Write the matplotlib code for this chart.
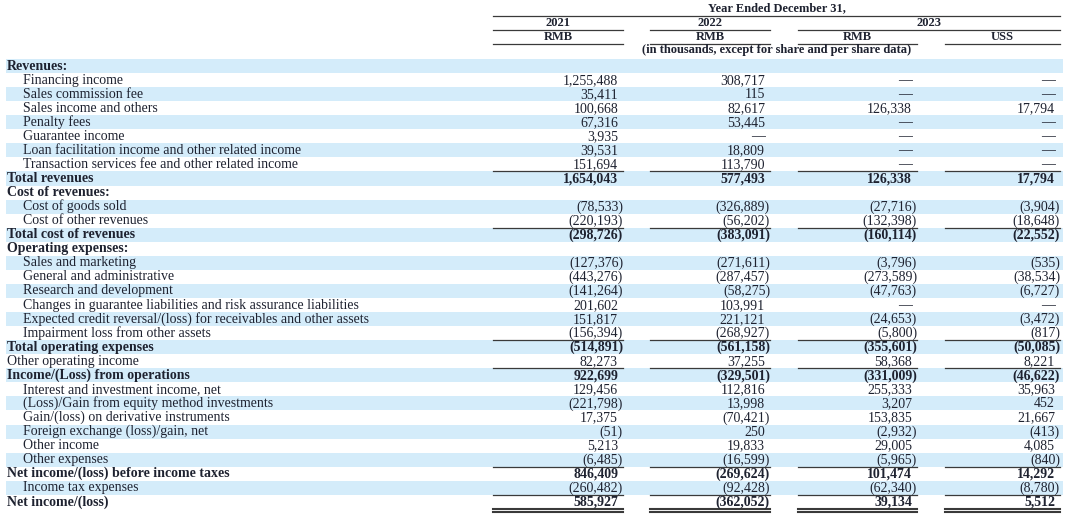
import matplotlib.pyplot as plt
from matplotlib.patches import Rectangle

# Income statement rows (label, style): head = bold section title, item = indented,
# total = bold subtotal, plain = unindented regular
labels = [
    "Revenues:", "Financing income", "Sales commission fee", "Sales income and others",
    "Penalty fees", "Guarantee income", "Loan facilitation income and other related income",
    "Transaction services fee and other related income", "Total revenues",
    "Cost of revenues:", "Cost of goods sold", "Cost of other revenues", "Total cost of revenues",
    "Operating expenses:", "Sales and marketing", "General and administrative",
    "Research and development", "Changes in guarantee liabilities and risk assurance liabilities",
    "Expected credit reversal/(loss) for receivables and other assets",
    "Impairment loss from other assets", "Total operating expenses", "Other operating income",
    "Income/(Loss) from operations", "Interest and investment income, net",
    "(Loss)/Gain from equity method investments", "Gain/(loss) on derivative instruments",
    "Foreign exchange (loss)/gain, net", "Other income", "Other expenses",
    "Net income/(loss) before income taxes", "Income tax expenses", "Net income/(loss)",
]
styles = [
    "head", "item", "item", "item", "item", "item", "item", "item", "total",
    "head", "item", "item", "total",
    "head", "item", "item", "item", "item", "item", "item", "total", "plain",
    "total", "item", "item", "item", "item", "item", "item", "total", "item", "total",
]

# None = dash (or blank for section titles)
rmb_2021 = [None, 1255488, 35411, 100668, 67316, 3935, 39531, 151694, 1654043,
            None, -78533, -220193, -298726,
            None, -127376, -443276, -141264, 201602, 151817, -156394, -514891, 82273,
            922699, 129456, -221798, 17375, -51, 5213, -6485, 846409, -260482, 585927]
rmb_2022 = [None, 308717, 115, 82617, 53445, None, 18809, 113790, 577493,
            None, -326889, -56202, -383091,
            None, -271611, -287457, -58275, 103991, 221121, -268927, -561158, 37255,
            -329501, 112816, 13998, -70421, 250, 19833, -16599, -269624, -92428, -362052]
rmb_2023 = [None, None, None, 126338, None, None, None, None, 126338,
            None, -27716, -132398, -160114,
            None, -3796, -273589, -47763, None, -24653, -5800, -355601, 58368,
            -331009, 255333, 3207, 153835, -2932, 29005, -5965, 101474, -62340, 39134]
usd_2023 = [None, None, None, 17794, None, None, None, None, 17794,
            None, -3904, -18648, -22552,
            None, -535, -38534, -6727, None, -3472, -817, -50085, 8221,
            -46622, 35963, 452, 21667, -413, 4085, -840, 14292, -8780, 5512]

columns = [rmb_2021, rmb_2022, rmb_2023, usd_2023]
col_units = ["RMB", "RMB", "RMB", "USS"]
single_rule_after = [7, 11, 19, 21, 28, 30]

# layout (pixel units)
col_spans = [(493, 623), (650, 770), (798, 917), (945, 1060)]
row0, pitch = 66, 14.06
band = "#d4ecfa"
ink = "#1e2230"
rule = "#3a3a3a"
fs = 10
fs_head = 9

plt.rcParams['font.family'] = ['Liberation Serif', 'DejaVu Serif']

fig = plt.figure(figsize=(10.8, 5.24), dpi=100)
ax = fig.add_axes([0, 0, 1, 1])
ax.set_xlim(0, 1080)
ax.set_ylim(524, 0)
ax.axis('off')

# header
x_left, x_right = col_spans[0][0], col_spans[-1][1]
ax.text((x_left + x_right) / 2, 8, "Year Ended December 31,", ha='center', va='center',
        fontsize=fs_head, fontweight='bold', color=ink)
ax.plot([x_left, x_right], [15.5, 15.5], color=rule, lw=0.9)
years = [("2021", col_spans[0][0], col_spans[0][1]),
         ("2022", col_spans[1][0], col_spans[1][1]),
         ("2023", col_spans[2][0], col_spans[3][1])]
for yr, a, b in years:
    ax.text((a + b) / 2, 22.5, yr, ha='center', va='center', fontsize=fs_head,
            fontweight='bold', color=ink)
    ax.plot([a, b], [29.5, 29.5], color=rule, lw=0.9)
for unit, (a, b) in zip(col_units, col_spans):
    ax.text((a + b) / 2, 36.5, unit, ha='center', va='center',
            fontsize=fs_head, fontweight='bold', color=ink)
    ax.plot([a, b], [43.5, 43.5], color=rule, lw=0.9)
ax.text((x_left + x_right) / 2, 50.5, "(in thousands, except for share and per share data)",
        ha='center', va='center', fontsize=fs_head, fontweight='bold', color=ink)

# body
for i, (lab, st) in enumerate(zip(labels, styles)):
    y = row0 + i * pitch
    if i % 2 == 0:
        ax.add_patch(Rectangle((6, y - pitch / 2), 1063 - 6, pitch, color=band, lw=0, zorder=0))
    bold = st in ("head", "total")
    x = 23 if st == "item" else 7
    ax.text(x, y, lab, ha='left', va='center', fontsize=fs,
            fontweight='bold' if bold else 'normal', color=ink)
    if st == "head":
        continue
    for col, (a, b) in zip(columns, col_spans):
        v = col[i]
        if v is None:
            txt, xr = "\u2014", b - 5
        elif v < 0:
            txt, xr = f"({-v:,})", b
        else:
            txt, xr = f"{v:,}", b - 5
        ax.text(xr, y + 0.5, txt, ha='right', va='center', fontsize=fs,
                fontweight='bold' if bold else 'normal', color=ink)

# rules under columns
for i in single_rule_after:
    yl = row0 + i * pitch + pitch / 2
    for a, b in col_spans:
        ax.plot([a, b], [yl, yl], color=rule, lw=0.9)
yl = row0 + 31 * pitch + pitch / 2
for a, b in col_spans:
    ax.plot([a, b], [yl, yl], color=rule, lw=1.5)
    ax.plot([a, b], [yl + 3, yl + 3], color=rule, lw=1.5)

fig.savefig("out.png", dpi=100)
